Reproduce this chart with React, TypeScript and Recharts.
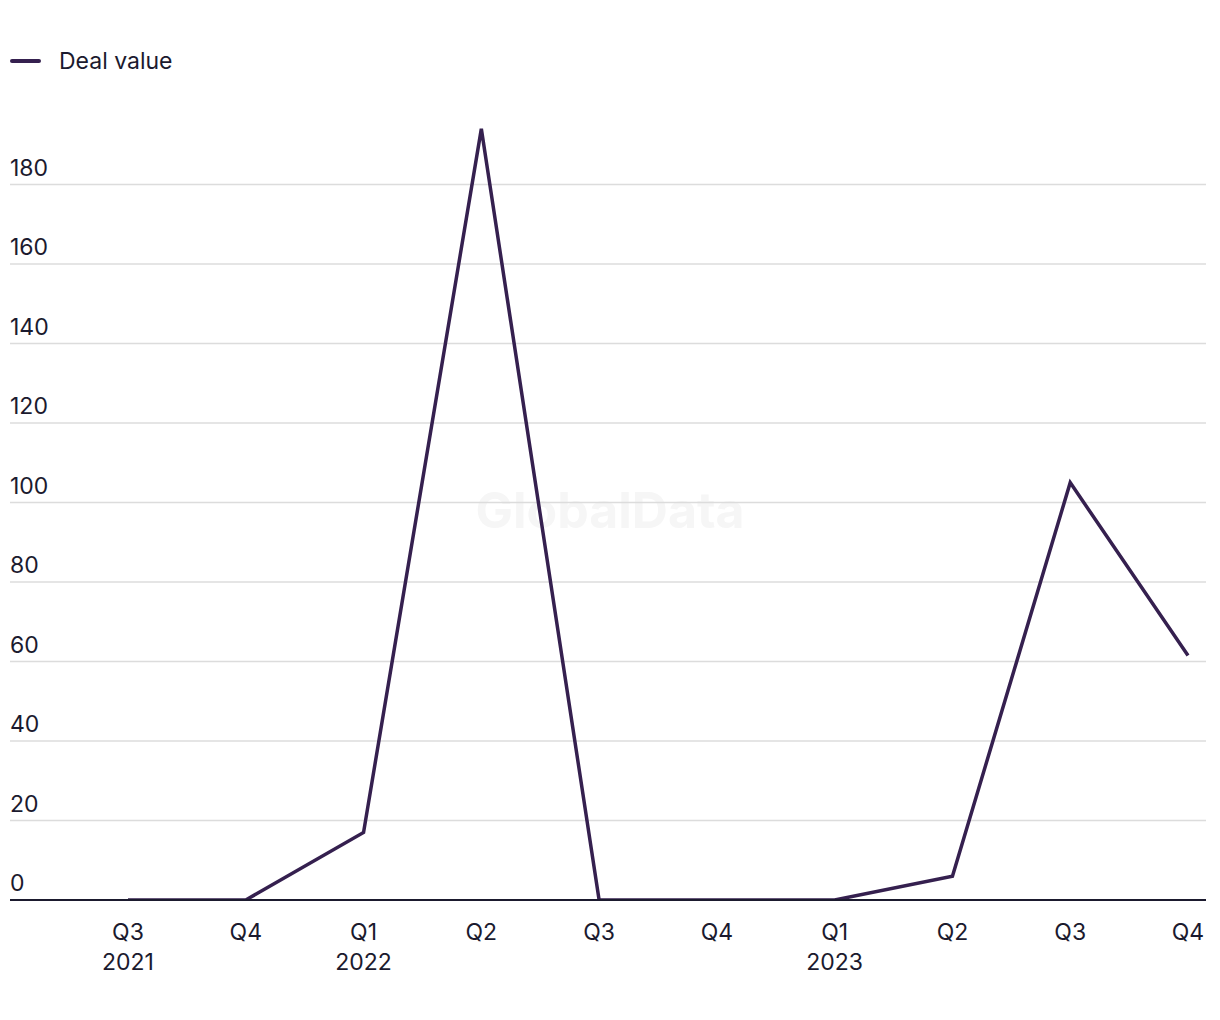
import { CartesianGrid, Line, LineChart, XAxis, YAxis } from "recharts"

const quarters = ["Q3", "Q4", "Q1", "Q2", "Q3", "Q4", "Q1", "Q2", "Q3", "Q4"]
const years = ["2021", "", "2022", "", "", "", "2023", "", "", ""]
const dealValue = [0, 0, 17, 194, 0, 0, 0, 6, 105, 61.5]
const yTicks = [0, 20, 40, 60, 80, 100, 120, 140, 160, 180]

const data = quarters.map((q, i) => ({ name: `${q} ${years[i]}`.trim(), q, year: years[i], value: dealValue[i] }))

const font = "Inter, 'Noto Sans', sans-serif"
const ink = "#1b1a2e"
const purple = "#35204f"

function YTick(props: any) {
  const { y, payload } = props
  return (
    <text x={10} y={y - 9} fill={ink} fontSize={23} fontFamily={font} textAnchor="start">
      {payload.value}
    </text>
  )
}

function XTick(props: any) {
  const { x, y, index } = props
  return (
    <g>
      <text x={x} y={y + 32} fill={ink} fontSize={23} fontFamily={font} textAnchor="middle">
        {quarters[index]}
      </text>
      {years[index] && (
        <text x={x} y={y + 62} fill={ink} fontSize={23} fontFamily={font} textAnchor="middle">
          {years[index]}
        </text>
      )}
    </g>
  )
}

export default function App() {
  return (
    <div style={{ position: "absolute", left: 0, top: 0, width: 1220, height: 1020, background: "#fff" }}>
      <div
        style={{
          position: "absolute",
          left: 0,
          width: 1220,
          top: 480,
          textAlign: "center",
          fontFamily: font,
          fontWeight: 700,
          fontSize: 50,
          color: "#f6f6f6",
        }}
      >
        GlobalData
      </div>
      <div style={{ position: "absolute", left: 10, top: 47, display: "flex", alignItems: "center", fontFamily: font, fontSize: 23, color: ink }}>
        <span style={{ display: "inline-block", width: 31, height: 4, borderRadius: 2, background: purple, marginRight: 18 }} />
        Deal value
      </div>
      <div style={{ position: "absolute", left: 0, top: 0 }}>
        <LineChart width={1220} height={1020} data={data} margin={{ top: 105, right: 14, bottom: 60, left: 9 }}>
          <CartesianGrid vertical={false} stroke="#dcdcdc" strokeWidth={1.5} horizontalValues={yTicks} />
          <XAxis
            dataKey="name"
            axisLine={{ stroke: ink, strokeWidth: 2 }}
            tickLine={false}
            tick={<XTick />}
            interval={0}
            height={60}
            padding={{ left: 118, right: 18 }}
          />
          <YAxis
            width={1}
            domain={[0, 200]}
            ticks={yTicks}
            interval={0}
            axisLine={false}
            tickLine={false}
            tick={<YTick />}
            allowDataOverflow
          />
          <Line
            type="linear"
            dataKey="value"
            stroke={purple}
            strokeWidth={3.5}
            dot={false}
            activeDot={false}
            isAnimationActive={false}
          />
        </LineChart>
      </div>
    </div>
  )
}
